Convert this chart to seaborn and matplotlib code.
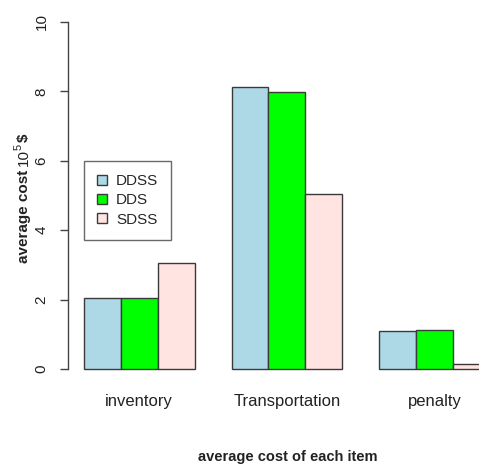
import matplotlib
matplotlib.use("Agg")
import matplotlib.pyplot as plt
from matplotlib.patches import Patch
import seaborn as sns
import pandas as pd

items = ["inventory", "Transportation", "penalty"]
methods = ["DDSS", "DDS", "SDSS"]
ddss = [2.05, 8.12, 1.10]
dds = [2.05, 7.97, 1.14]
sdss = [3.05, 5.03, 0.15]
colors = ["#ADD8E6", "#00FF00", "#FFE4E1"]
yticks = [0, 2, 4, 6, 8, 10]

df = pd.DataFrame({
    "item": items * 3,
    "method": [m for m in methods for _ in items],
    "cost": ddss + dds + sdss,
})

sns.set_theme(style="white")
plt.rcParams["font.family"] = ["Liberation Sans", "DejaVu Sans"]

W, H = 479, 466
fig = plt.figure(figsize=(W / 100, H / 100), dpi=100)

# plot region in pixels (extends past the right edge of the canvas)
left_px, right_px = 68, 546
top_px, bottom_px = 8, 383
ax = fig.add_axes([left_px / W, 1 - bottom_px / H,
                   (right_px - left_px) / W, (bottom_px - top_px) / H])

sns.barplot(data=df, x="item", y="cost", hue="method", order=items,
            hue_order=methods, palette=colors, saturation=1, width=0.75,
            edgecolor="#3a3a3a", linewidth=1.0, ax=ax, legend=False)

ax.set_xlim(-0.483, 2.755)
ax.set_ylim(-0.4, 10.4)
ax.set_xlabel("")
ax.set_ylabel("")

for s in ["top", "right", "bottom"]:
    ax.spines[s].set_visible(False)
ax.spines["left"].set_bounds(0, 10)
ax.spines["left"].set_color("#444444")
ax.spines["left"].set_linewidth(1.0)

ax.set_yticks(yticks)
ax.set_yticklabels([str(t) for t in yticks], rotation=90, va="center",
                   fontsize=11, color="#222222")
ax.tick_params(axis="y", left=True, length=6, width=1.0, color="#444444",
               pad=8)
ax.tick_params(axis="x", bottom=False, length=0, pad=8, labelsize=12,
               labelcolor="#222222")

fig.text(288 / W, 1 - 457 / H, "average cost of each item",
         ha="center", va="center", fontsize=10.5, fontweight="bold",
         color="#222222")

# y-axis title built from pieces: bold words, regular power of ten
fig.canvas.draw()
renderer = fig.canvas.get_renderer()
base_x = 28 / W
y_px = H - 263
pieces = [("average cost ", 11, "bold", 0, 0),
          ("10", 11, "normal", 0, 0),
          ("5", 8, "normal", -6, -1),
          ("$", 11, "bold", 0, 1)]
for txt, size, weight, dx, gap in pieces:
    t = fig.text(base_x + dx / W, (y_px + gap) / H, txt, rotation=90,
                 rotation_mode="anchor", ha="left", va="baseline",
                 fontsize=size, fontweight=weight, color="#222222")
    y_px = t.get_window_extent(renderer).y1

handles = [Patch(facecolor=c, edgecolor="#3a3a3a", linewidth=1.0)
           for c in colors]
leg = ax.legend(handles, methods, loc="upper left",
                bbox_to_anchor=(84 / W, 1 - 161 / H),
                bbox_transform=fig.transFigure, frameon=True, fancybox=False,
                fontsize=11, handlelength=0.65, handleheight=0.65,
                handletextpad=0.6, labelspacing=0.35, borderpad=0.85,
                borderaxespad=0)
leg.get_frame().set_edgecolor("#444444")
leg.get_frame().set_linewidth(1.0)

fig.savefig("out.png", dpi=100)
